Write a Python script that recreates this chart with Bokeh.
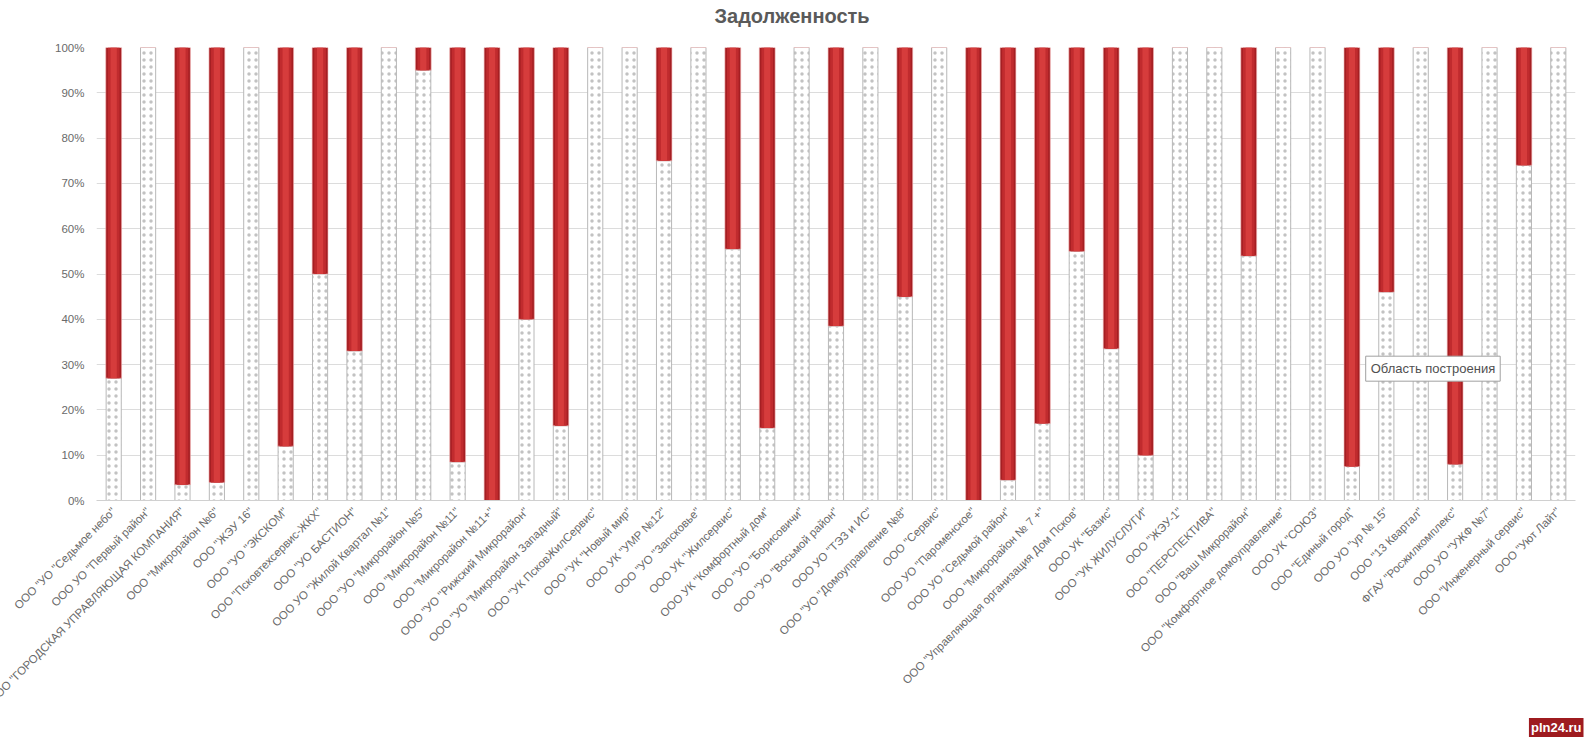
from bokeh.plotting import figure
from bokeh.models import ColumnDataSource, FixedTicker, NumeralTickFormatter, Label, Title
from bokeh.transform import stack
from bokeh.embed import file_html
from bokeh.resources import INLINE
import math

# ---- data ----
companies = [
    'ООО "УО "Седьмое небо"',
    'ООО УО "Первый район"',
    'ООО "ГОРОДСКАЯ УПРАВЛЯЮЩАЯ КОМПАНИЯ"',
    'ООО "Микрорайон №6"',
    'ООО "ЖЭУ 16"',
    'ООО "УО "ЭКСКОМ"',
    'ООО "Псковтехсервис-ЖКХ"',
    'ООО "УО БАСТИОН"',
    'ООО УО "Жилой Квартал №1"',
    'ООО "УО "Микрорайон №5"',
    'ООО "Микрорайон №11"',
    'ООО "Микрорайон №11+"',
    'ООО "УО "Рижский Микрорайон"',
    'ООО "УО "Микрорайон Западный"',
    'ООО "УК ПсковЖилСервис"',
    'ООО "УК "Новый мир"',
    'ООО УК "УМР №12"',
    'ООО "УО "Запсковье"',
    'ООО УК "Жилсервис"',
    'ООО УК "Комфортный дом"',
    'ООО "УО "Борисовичи"',
    'ООО "УО "Восьмой район"',
    'ООО УО "ТЭЗ и ИС"',
    'ООО "УО "Домоуправление №8"',
    'ООО "Сервис"',
    'ООО УО "Пароменское"',
    'ООО УО "Седьмой район"',
    'ООО "Микрорайон № 7 +"',
    'ООО "Управляющая организация Дом Псков"',
    'ООО УК "Базис"',
    'ООО "УК ЖИЛУСЛУГИ"',
    'ООО "ЖЭУ-1"',
    'ООО "ПЕРСПЕКТИВА"',
    'ООО "Ваш Микрорайон"',
    'ООО "Комфортное домоуправление"',
    'ООО УК "СОЮЗ"',
    'ООО "Единый город"',
    'ООО УО "ур № 15"',
    'ООО "13 Квартал"',
    'ФГАУ "Росжилкомплекс"',
    'ООО УО "УЖФ №7"',
    'ООО "Инженерный сервис"',
    'ООО "Уют Лайт"',
]

# share without debt (dotted, bottom), in fraction
paid_share = [0.27, 1.00, 0.035, 0.04, 1.00, 0.12, 0.50, 0.33, 1.00, 0.95,
              0.085, 0.00, 0.40, 0.165, 1.00, 1.00, 0.75, 1.00, 0.555, 0.16,
              1.00, 0.385, 1.00, 0.45, 1.00, 0.00, 0.045, 0.17, 0.55, 0.335,
              0.10, 1.00, 1.00, 0.54, 1.00, 1.00, 0.075, 0.46, 1.00, 0.08,
              1.00, 0.74, 1.00]

# debt share (red, top), in fraction
debt_share = [0.73, 0.00, 0.965, 0.96, 0.00, 0.88, 0.50, 0.67, 0.00, 0.05,
              0.915, 1.00, 0.60, 0.835, 0.00, 0.00, 0.25, 0.00, 0.445, 0.84,
              0.00, 0.615, 0.00, 0.55, 0.00, 1.00, 0.955, 0.83, 0.45, 0.665,
              0.90, 0.00, 0.00, 0.46, 0.00, 0.00, 0.925, 0.54, 0.00, 0.92,
              0.00, 0.26, 0.00]

y_ticks = [0.0, 0.1, 0.2, 0.3, 0.4, 0.5, 0.6, 0.7, 0.8, 0.9, 1.0]

title_text = "Задолженность"
tooltip_text = "Область построения"
watermark_text = "pln24.ru"

source = ColumnDataSource(dict(cat=companies, paid=paid_share, debt=debt_share))

p = figure(
    x_range=companies, y_range=(0, 1),
    width=1584, height=739,
    output_backend="svg", toolbar_location=None,
    min_border_left=96, min_border_right=9,
    min_border_top=47, min_border_bottom=238,
    title=None,
)
p.x_range.range_padding = 0
p.x_range.factor_padding = 0
p.outline_line_color = None
p.background_fill_color = "white"
p.border_fill_color = "white"

# spacer between the title and the plot area, then the title itself
p.add_layout(Title(text=" ", text_font_size="1px", standoff=18), "above")
p.add_layout(Title(text=title_text, align="left", offset=618, standoff=0,
                   text_font="Liberation Sans", text_font_style="bold",
                   text_font_size="20px", text_color="#5a5a5a"), "above")

# watermark under the axis
p.add_layout(Title(text=watermark_text, align="right", offset=-8, standoff=5,
                   text_font="Liberation Sans", text_font_style="bold",
                   text_font_size="13px", text_color="white", padding=2,
                   background_fill_color="#9e1b1f"), "below")

# dotted (no debt) part
p.vbar(x="cat", width=0.44, bottom=0, top="paid", source=source,
       fill_color="white", line_color="#b8b8b8", line_width=1,
       hatch_pattern=".", hatch_color="#c2c2c2", hatch_scale=7, hatch_weight=0.6)

# red (debt) part with simple cylinder shading
p.vbar(x="cat", width=0.46, bottom=stack("paid"), top=stack("paid", "debt"), source=source,
       fill_color="#a51f23", line_color="#f0b0b0", line_alpha=0.6, line_width=1)
p.vbar(x="cat", width=0.34, bottom=stack("paid"), top=stack("paid", "debt"), source=source,
       fill_color="#c02b2e", line_color=None)
p.vbar(x="cat", width=0.18, bottom=stack("paid"), top=stack("paid", "debt"), source=source,
       fill_color="#d63c3c", line_color=None)

# axes
p.yaxis.ticker = FixedTicker(ticks=y_ticks)
p.yaxis.formatter = NumeralTickFormatter(format="0%")
p.yaxis.axis_line_color = None
p.yaxis.major_tick_line_color = None
p.yaxis.minor_tick_line_color = None
p.yaxis.major_tick_out = 0
p.yaxis.major_label_standoff = 12
p.yaxis.major_label_text_color = "#6a6a6a"
p.yaxis.major_label_text_font = "Liberation Sans"
p.yaxis.major_label_text_font_size = "11.5px"

p.xaxis.axis_line_color = "#d0d0d0"
p.xaxis.major_tick_line_color = None
p.xaxis.minor_tick_line_color = None
p.xaxis.major_tick_out = 0
p.xaxis.major_label_standoff = 9
p.xaxis.major_label_orientation = math.pi / 4
p.xaxis.major_label_text_color = "#6a6a6a"
p.xaxis.major_label_text_font = "Liberation Sans"
p.xaxis.major_label_text_font_size = "11.5px"

p.xgrid.grid_line_color = None
p.ygrid.grid_line_color = "#dcdcdc"
p.ygrid.ticker = FixedTicker(ticks=y_ticks)

# tooltip box (inside plot area)
p.add_layout(Label(x=36.9, y=0.291, x_offset=2, y_offset=-2, text=tooltip_text,
                   text_align="left", text_baseline="middle", text_font="Liberation Sans",
                   text_font_size="13px", text_alpha=0.0,
                   background_fill_color="#888888", background_fill_alpha=0.35,
                   padding=5))
p.add_layout(Label(x=36.9, y=0.291, text=tooltip_text, text_align="left",
                   text_baseline="middle", text_font="Liberation Sans",
                   text_font_size="13px", text_color="#505050",
                   background_fill_color="white", border_line_color="#a0a0a0",
                   padding=5))

open("out.html", "w").write(file_html(p, INLINE))
